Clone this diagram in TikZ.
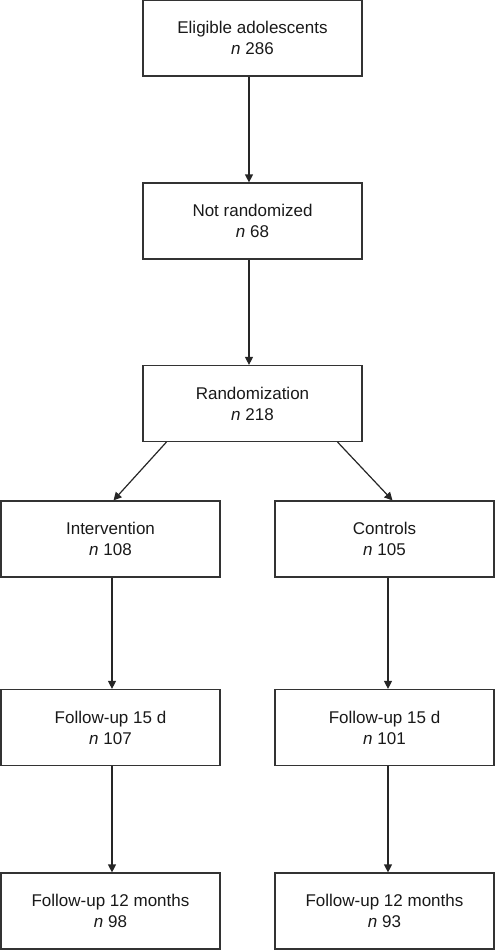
\documentclass[tikz,border=0pt]{standalone}
\usepackage{fontspec}
\setmainfont{Liberation Sans}
\usetikzlibrary{arrows.meta,calc}
\begin{document}
\begin{tikzpicture}[x=1pt,y=1pt,
  box/.style={draw=black!80, line width=1.2pt, minimum width=219pt, minimum height=76pt,
    align=center, inner sep=0pt, font=\fontsize{17}{21}\selectfont, text=black!90},
  arr/.style={draw=black!85, line width=1.2pt, -{Triangle[length=8pt,width=8pt]}}]
\useasboundingbox (0,0) rectangle (495,-950);
\node[box] (b1) at (252.5,-38) {Eligible adolescents\\\textit{n} 286};
\node[box] (b2) at (252.5,-221) {Not randomized\\\textit{n} 68};
\node[box] (b3) at (252.5,-403.5) {Randomization\\\textit{n} 218};
\node[box] (l4) at (110.5,-539) {Intervention\\\textit{n} 108};
\node[box] (r4) at (384.5,-539) {Controls\\\textit{n} 105};
\node[box] (l5) at (110.5,-727.5) {Follow-up 15 d\\\textit{n} 107};
\node[box] (r5) at (384.5,-727.5) {Follow-up 15 d\\\textit{n} 101};
\node[box] (l6) at (110.5,-911) {Follow-up 12 months\\\textit{n} 98};
\node[box] (r6) at (384.5,-911) {Follow-up 12 months\\\textit{n} 93};
\draw[arr] ($(b1.south)+(-3.5,0)$) -- ($(b2.north)+(-3.5,0)$);
\draw[arr] ($(b2.south)+(-3.5,0)$) -- ($(b3.north)+(-3.5,0)$);
\draw[arr] ($(b3.south west)+(24,0)$) -- ($(l4.north)+(3,0)$);
\draw[arr] ($(b3.south east)+(-25,0)$) -- ($(r4.north)+(8,0)$);
\draw[arr] ($(l4.south)+(1.5,0)$) -- ($(l5.north)+(1.5,0)$);
\draw[arr] ($(r4.south)+(3.5,0)$) -- ($(r5.north)+(3.5,0)$);
\draw[arr] ($(l5.south)+(1.5,0)$) -- ($(l6.north)+(1.5,0)$);
\draw[arr] ($(r5.south)+(3.5,0)$) -- ($(r6.north)+(3.5,0)$);
\end{tikzpicture}
\end{document}
